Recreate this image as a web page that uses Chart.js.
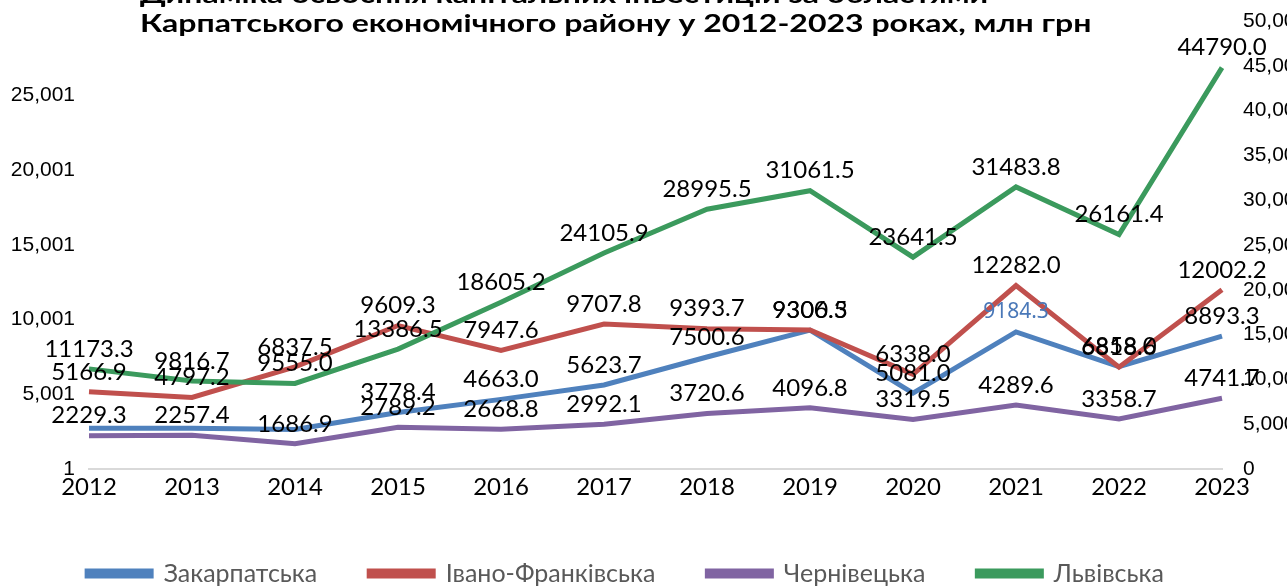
<!DOCTYPE html>
<html>
<head>
<meta charset="utf-8">
<script src="https://cdn.jsdelivr.net/npm/chart.js@4.4.1/dist/chart.umd.min.js"></script>
<style>
  html, body { margin: 0; padding: 0; background: #ffffff; }
  #wrap { width: 1287px; height: 586px; position: relative; overflow: hidden; }
</style>
</head>
<body>
<div id="wrap"><canvas id="c" width="1287" height="586"></canvas></div>
<script>
// ---- data ----
const titleLines = [
  'Динаміка освоєння капітальних інвестицій за областями',
  'Карпатського економічного району у 2012-2023 роках, млн грн'
];
const years = ['2012','2013','2014','2015','2016','2017','2018','2019','2020','2021','2022','2023'];
const seriesNames = ['Закарпатська', 'Івано-Франківська', 'Чернівецька', 'Львівська'];
const zakarpatska   = [2733, 2730, 2640, 3778.4, 4663.0, 5623.7, 7500.6, 9300.5, 5081.0, 9184.3, 6858.0, 8893.3];
const ivanoFrank    = [5166.9, 4797.2, 6837.5, 9609.3, 7947.6, 9707.8, 9393.7, 9306.3, 6338.0, 12282.0, 6818.6, 12002.2];
const chernivetska  = [2229.3, 2257.4, 1686.9, 2789.2, 2668.8, 2992.1, 3720.6, 4096.8, 3319.5, 4289.6, 3358.7, 4741.7];
const lvivska       = [11173.3, 9816.7, 9555.0, 13386.5, 18605.2, 24105.9, 28995.5, 31061.5, 23641.5, 31483.8, 26161.4, 44790.0];
const leftAxisMin = 1, leftAxisMax = 30001, leftStep = 5000;
const rightAxisMin = 0, rightAxisMax = 50000, rightStep = 5000;

// ---- plugins ----
const valueLabels = {
  id: 'valueLabels',
  afterDatasetsDraw(chart) {
    const ctx = chart.ctx;
    chart.data.datasets.forEach((ds, di) => {
      const meta = chart.getDatasetMeta(di);
      if (meta.hidden) return;
      meta.data.forEach((pt, i) => {
        if (ds.labelSkip && ds.labelSkip.includes(i)) return;
        const sp = ds.labelSpecial && ds.labelSpecial[i];
        ctx.save();
        ctx.font = sp ? sp.font : '24px Lato';
        ctx.fillStyle = sp ? sp.color : '#000000';
        ctx.textAlign = 'center';
        ctx.textBaseline = 'middle';
        ctx.fillText(Number(ds.data[i]).toFixed(1), pt.x, pt.y - 20);
        ctx.restore();
      });
    });
  }
};
const leftTitle = {
  id: 'leftTitle',
  afterDraw(chart, args, opts) {
    const ctx = chart.ctx;
    ctx.save();
    ctx.font = opts.font;
    ctx.fillStyle = opts.color;
    ctx.textAlign = 'left';
    ctx.textBaseline = 'alphabetic';
    ctx.translate(opts.x, 0);
    ctx.scale(opts.stretch, 1);
    opts.lines.forEach((t, k) => ctx.fillText(t, 0, opts.y + k * opts.gap));
    ctx.restore();
  }
};

function fmt(v) { return Number(v).toLocaleString('en-US'); }
function noPad(a) { a.paddingTop = 0; a.paddingBottom = 0; }

function build() {
  const base = { pointRadius: 0, pointHoverRadius: 0, borderWidth: 5, tension: 0, fill: false,
                 borderJoinStyle: 'miter', borderCapStyle: 'butt' };
  new Chart(document.getElementById('c'), {
    type: 'line',
    data: {
      labels: years,
      datasets: [
        Object.assign({}, base, { label: seriesNames[0], data: zakarpatska, yAxisID: 'y',
          borderColor: '#4f81bd', backgroundColor: '#4f81bd', order: 3,
          labelSkip: [0, 1, 2], labelSpecial: { 9: { font: '21px "Noto Sans"', color: '#4a78b8' } } }),
        Object.assign({}, base, { label: seriesNames[1], data: ivanoFrank, yAxisID: 'y',
          borderColor: '#c0504d', backgroundColor: '#c0504d', order: 2 }),
        Object.assign({}, base, { label: seriesNames[2], data: chernivetska, yAxisID: 'y',
          borderColor: '#8064a2', backgroundColor: '#8064a2', order: 1 }),
        Object.assign({}, base, { label: seriesNames[3], data: lvivska, yAxisID: 'y1',
          borderColor: '#3b9a5d', backgroundColor: '#3b9a5d', order: 0 })
      ]
    },
    options: {
      responsive: false,
      animation: false,
      layout: { padding: { top: 21, left: -36, right: 0, bottom: -10 } },
      scales: {
        x: {
          offset: false,
          grid: { display: false, drawTicks: false },
          border: { display: true, color: '#d9d9d9', width: 2 },
          ticks: { color: '#000000', font: { family: 'Lato', size: 24 }, padding: 4,
                   autoSkip: false, maxRotation: 0, minRotation: 0 },
          afterFit(a) { a.height = 40; }
        },
        y: {
          position: 'left', min: leftAxisMin, max: leftAxisMax,
          grid: { display: false, drawTicks: false },
          border: { display: false },
          ticks: { stepSize: leftStep, color: '#000000', font: { family: 'Liberation Sans', size: 21 },
                   padding: 14, callback: v => (v >= leftAxisMax ? '' : fmt(v)) },
          afterFit(a) { a.width = 125; noPad(a); }
        },
        y1: {
          position: 'right', min: rightAxisMin, max: rightAxisMax,
          grid: { display: false, drawTicks: false },
          border: { display: false },
          ticks: { stepSize: rightStep, color: '#000000', font: { family: 'Liberation Sans', size: 21 },
                   padding: 21, callback: v => fmt(v) },
          afterFit(a) { a.width = 65; noPad(a); }
        }
      },
      plugins: {
        title: { display: false },
        tooltip: { enabled: false },
        legend: {
          display: true, position: 'bottom',
          labels: {
            boxWidth: 64, boxHeight: 5, padding: 52, color: '#595959',
            font: { family: 'Lato', size: 25 },
            sort: (a, b) => a.datasetIndex - b.datasetIndex
          }
        },
        leftTitle: { lines: titleLines, x: 140, y: 3, gap: 29, font: 'bold 25px Lato', color: '#000000', stretch: 1.28 }
      }
    },
    plugins: [valueLabels, leftTitle]
  });
}

Promise.all([
  document.fonts.load('24px Lato'),
  document.fonts.load('bold 25px Lato'),
  document.fonts.load('21px "Liberation Sans"'),
  document.fonts.load('21px "Noto Sans"')
]).then(build, build);
</script>
</body>
</html>
